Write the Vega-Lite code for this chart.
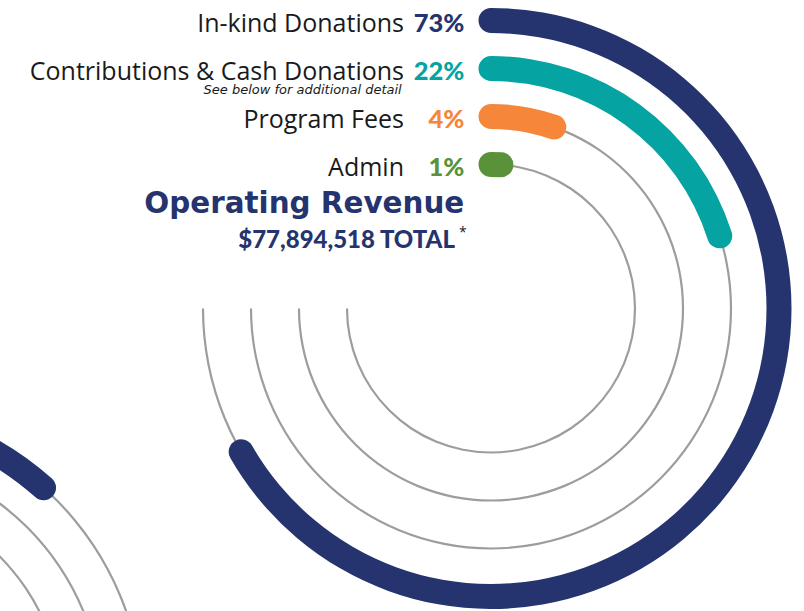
{
  "$schema": "https://vega.github.io/schema/vega-lite/v6.json",
  "autosize": "none",
  "width": 626,
  "height": 605,
  "padding": {"left": 178, "top": 6, "right": 0, "bottom": 0},
  "background": "white",
  "config": {"view": {"stroke": null}},
  "datasets": {
    "revenue": [
      {"label": "In-kind Donations", "pct": "73%", "ring": 4, "arc": 73, "note": ""},
      {"label": "Contributions & Cash Donations", "pct": "22%", "ring": 3, "arc": 22, "note": "See below for additional detail"},
      {"label": "Program Fees", "pct": "4%", "ring": 2, "arc": 5.8, "note": ""},
      {"label": "Admin", "pct": "1%", "ring": 1, "arc": 1.2, "note": ""}
    ],
    "nextChart": [
      {"ring": 3, "arc": 12.7},
      {"ring": 2, "arc": 0},
      {"ring": 1, "arc": 0}
    ]
  },
  "resolve": {"scale": {"radius": "independent"}},
  "layer": [
    {
      "data": {"name": "revenue"},
      "layer": [
        {
          "mark": {"type": "arc", "color": "#9d9d9d", "radiusOffset": 1.1, "radius2Offset": -1.1},
          "encoding": {
            "theta": {"value": 4.712389},
            "theta2": {"value": 0},
            "radius": {"field": "ring", "type": "quantitative", "scale": {"type": "linear", "zero": false, "domain": [1, 4], "range": [144, 288]}},
            "radius2": {"field": "ring"}
          }
        },
        {
          "transform": [{"filter": "datum.ring == 4"}],
          "mark": {"type": "arc", "color": "#25346e", "cornerRadius": 12.5, "radiusOffset": 12.5, "radius2Offset": -12.5, "thetaOffset": 0.0434},
          "encoding": {
            "theta": {"field": "arc", "type": "quantitative", "stack": null, "scale": {"domain": [0, 100], "range": [0, 5.742]}},
            "theta2": {"value": -0.0434},
            "radius": {"field": "ring", "type": "quantitative"},
            "radius2": {"field": "ring"}
          }
        },
        {
          "transform": [{"filter": "datum.ring == 3"}],
          "mark": {"type": "arc", "color": "#05a3a1", "cornerRadius": 12.5, "radiusOffset": 12.5, "radius2Offset": -12.5, "thetaOffset": 0.0521},
          "encoding": {
            "theta": {"field": "arc", "type": "quantitative", "stack": null},
            "theta2": {"value": -0.0521},
            "radius": {"field": "ring", "type": "quantitative"},
            "radius2": {"field": "ring"}
          }
        },
        {
          "transform": [{"filter": "datum.ring == 2"}],
          "mark": {"type": "arc", "color": "#f6863a", "cornerRadius": 12.5, "radiusOffset": 12.5, "radius2Offset": -12.5, "thetaOffset": 0.0651},
          "encoding": {
            "theta": {"field": "arc", "type": "quantitative", "stack": null},
            "theta2": {"value": -0.0651},
            "radius": {"field": "ring", "type": "quantitative"},
            "radius2": {"field": "ring"}
          }
        },
        {
          "transform": [{"filter": "datum.ring == 1"}],
          "mark": {"type": "arc", "color": "#5a923a", "cornerRadius": 12.5, "radiusOffset": 12.5, "radius2Offset": -12.5, "thetaOffset": 0.0868},
          "encoding": {
            "theta": {"field": "arc", "type": "quantitative", "stack": null},
            "theta2": {"value": -0.0868},
            "radius": {"field": "ring", "type": "quantitative"},
            "radius2": {"field": "ring"}
          }
        },
        {
          "mark": {"type": "text", "align": "right", "baseline": "alphabetic", "dx": -87, "dy": 11, "font": "Open Sans", "fontSize": 25, "color": "#1a1a1a"},
          "encoding": {
            "radius": {"field": "ring", "type": "quantitative"},
            "text": {"field": "label"}
          }
        },
        {
          "mark": {"type": "text", "align": "right", "baseline": "alphabetic", "dx": -26.7, "dy": 11, "font": "Lato", "fontWeight": 900, "fontSize": 25.5},
          "encoding": {
            "radius": {"field": "ring", "type": "quantitative"},
            "text": {"field": "pct"},
            "color": {
              "field": "label", "type": "nominal", "legend": null,
              "scale": {
                "domain": ["In-kind Donations", "Contributions & Cash Donations", "Program Fees", "Admin"],
                "range": ["#25346e", "#05a3a1", "#f6863a", "#5a923a"]
              }
            }
          }
        },
        {
          "mark": {"type": "text", "align": "right", "baseline": "alphabetic", "dx": -89.3, "dy": 25, "font": "DejaVu Sans", "fontStyle": "italic", "fontSize": 13, "color": "#1a1a1a"},
          "encoding": {
            "radius": {"field": "ring", "type": "quantitative"},
            "text": {"field": "note"}
          }
        },
        {
          "transform": [{"filter": "datum.ring == 1"}],
          "mark": {"type": "text", "align": "right", "baseline": "alphabetic", "dx": -26.7, "dy": 48.8, "font": "DejaVu Sans", "fontWeight": "bold", "fontSize": 29.4, "color": "#25346e", "text": "Operating Revenue"},
          "encoding": {
            "radius": {"field": "ring", "type": "quantitative"}
          }
        },
        {
          "transform": [{"filter": "datum.ring == 1"}],
          "mark": {"type": "text", "align": "right", "baseline": "alphabetic", "dx": -36, "dy": 83.8, "font": "Lato", "fontWeight": 900, "fontSize": 24, "color": "#25346e", "text": "$77,894,518 TOTAL"},
          "encoding": {
            "radius": {"field": "ring", "type": "quantitative"}
          }
        },
        {
          "transform": [{"filter": "datum.ring == 1"}],
          "mark": {"type": "text", "align": "left", "baseline": "alphabetic", "dx": -32, "dy": 72.5, "font": "Open Sans", "fontSize": 14, "color": "#1a1a1a", "text": "*"},
          "encoding": {
            "radius": {"field": "ring", "type": "quantitative"}
          }
        }
      ]
    },
    {
      "data": {"name": "nextChart"},
      "layer": [
        {
          "mark": {"type": "arc", "color": "#9d9d9d", "x": -333, "y": 704, "radiusOffset": 1.1, "radius2Offset": -1.1},
          "encoding": {
            "theta": {"value": 4.712389},
            "theta2": {"value": 0},
            "radius": {"field": "ring", "type": "quantitative", "scale": {"type": "linear", "zero": false, "domain": [1, 3], "range": [218, 298]}},
            "radius2": {"field": "ring"}
          }
        },
        {
          "transform": [{"filter": "datum.arc > 0"}],
          "mark": {"type": "arc", "color": "#25346e", "x": -333, "y": 704, "cornerRadius": 12.5, "radiusOffset": 12.5, "radius2Offset": -12.5, "thetaOffset": 0.042},
          "encoding": {
            "theta": {"field": "arc", "type": "quantitative", "stack": null},
            "theta2": {"value": -0.042},
            "radius": {"field": "ring", "type": "quantitative"},
            "radius2": {"field": "ring"}
          }
        }
      ]
    }
  ]
}
